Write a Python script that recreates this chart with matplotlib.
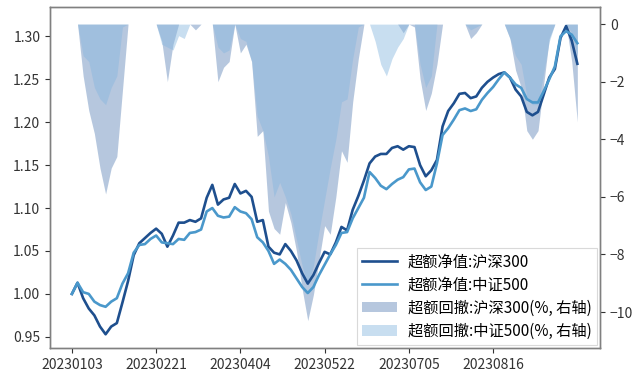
import numpy as np
import matplotlib
matplotlib.use("Agg")
import matplotlib.pyplot as plt

plt.rcParams['font.family'] = ['Noto Sans CJK SC', 'DejaVu Sans']
plt.rcParams['axes.unicode_minus'] = False

# tick labels (every 30 trading days)
tick_dates = ["20230103", "20230221", "20230404", "20230522", "20230705", "20230816"]

# excess net value, sampled every 2 trading days
nav_hs300 = [
    1.000, 1.013, 0.995, 0.983, 0.975, 0.962, 0.953, 0.962, 0.966, 0.990,
    1.015, 1.045, 1.059, 1.065, 1.071, 1.076, 1.070, 1.055, 1.068, 1.083,
    1.083, 1.086, 1.084, 1.088, 1.112, 1.127, 1.104, 1.110, 1.112, 1.128,
    1.117, 1.120, 1.113, 1.084, 1.086, 1.055, 1.048, 1.046, 1.058, 1.050,
    1.039, 1.024, 1.012, 1.022, 1.036, 1.049, 1.046, 1.060, 1.078, 1.074,
    1.098, 1.114, 1.132, 1.152, 1.160, 1.163, 1.163, 1.170, 1.172, 1.168,
    1.172, 1.171, 1.150, 1.137, 1.144, 1.156, 1.195, 1.213, 1.222, 1.233,
    1.234, 1.228, 1.230, 1.240, 1.247, 1.252, 1.256, 1.258, 1.252, 1.238,
    1.230, 1.212, 1.208, 1.212, 1.232, 1.252, 1.262, 1.298, 1.312, 1.295,
    1.268,
]
nav_zz500 = [
    1.000, 1.013, 1.002, 1.000, 0.991, 0.987, 0.985, 0.991, 0.995, 1.012,
    1.024, 1.048, 1.057, 1.058, 1.064, 1.068, 1.060, 1.059, 1.058, 1.064,
    1.063, 1.071, 1.072, 1.075, 1.096, 1.100, 1.091, 1.089, 1.090, 1.101,
    1.096, 1.094, 1.087, 1.066, 1.060, 1.050, 1.035, 1.040, 1.035, 1.028,
    1.018, 1.008, 1.001, 1.008, 1.022, 1.034, 1.046, 1.057, 1.071, 1.072,
    1.088, 1.100, 1.112, 1.142, 1.135, 1.126, 1.122, 1.128, 1.133, 1.136,
    1.145, 1.146, 1.130, 1.121, 1.125, 1.152, 1.185, 1.193, 1.203, 1.214,
    1.216, 1.213, 1.215, 1.226, 1.234, 1.241, 1.250, 1.258, 1.252, 1.244,
    1.240, 1.227, 1.223, 1.223, 1.236, 1.250, 1.265, 1.300, 1.306, 1.302,
    1.292,
]
# excess drawdown (%), right axis
dd_hs300 = [
    0.0, 0.0, -1.8, -3.0, -3.8, -5.0, -5.9, -5.0, -4.6, -2.3,
    0.0, 0.0, 0.0, 0.0, 0.0, 0.0, -0.6, -2.0, -0.7, 0.0,
    0.0, 0.0, -0.2, 0.0, 0.0, 0.0, -2.0, -1.5, -1.3, 0.0,
    -1.0, -0.7, -1.3, -3.9, -3.7, -6.5, -7.1, -7.3, -6.2, -6.9,
    -7.9, -9.2, -10.3, -9.4, -8.2, -7.0, -7.3, -6.0, -4.4, -4.8,
    -2.7, -1.2, 0.0, 0.0, 0.0, 0.0, 0.0, 0.0, 0.0, -0.3,
    0.0, -0.1, -1.9, -3.0, -2.4, -1.4, 0.0, 0.0, 0.0, 0.0,
    0.0, -0.5, -0.3, 0.0, 0.0, 0.0, 0.0, 0.0, -0.5, -1.6,
    -2.2, -3.7, -4.0, -3.7, -2.1, -0.5, 0.0, 0.0, 0.0, -1.3,
    -3.4,
]
dd_zz500 = [
    0.0, 0.0, -1.1, -1.3, -2.2, -2.6, -2.8, -2.2, -1.8, -0.1,
    0.0, 0.0, 0.0, 0.0, 0.0, 0.0, -0.7, -0.8, -0.9, -0.4,
    -0.5, 0.0, 0.0, 0.0, 0.0, 0.0, -0.8, -1.0, -0.9, 0.0,
    -0.5, -0.6, -1.3, -3.2, -3.7, -4.6, -6.0, -5.5, -6.0, -6.6,
    -7.5, -8.4, -9.1, -8.4, -7.2, -6.1, -5.0, -4.0, -2.7, -2.6,
    -1.2, -0.1, 0.0, 0.0, -0.6, -1.4, -1.8, -1.2, -0.8, -0.5,
    0.0, 0.0, -1.4, -2.2, -1.8, 0.0, 0.0, 0.0, 0.0, 0.0,
    0.0, -0.2, -0.1, 0.0, 0.0, 0.0, 0.0, 0.0, -0.5, -1.1,
    -1.4, -2.5, -2.8, -2.8, -1.7, -0.6, 0.0, 0.0, 0.0, -0.3,
    -1.1,
]

labels = ["超额净值:沪深300", "超额净值:中证500",
          "超额回撤:沪深300(%, 右轴)", "超额回撤:中证500(%, 右轴)"]

x = np.arange(len(nav_hs300)) * 2
tick_pos = np.arange(len(tick_dates)) * 30

fig = plt.figure(figsize=(6.33, 3.75), dpi=100)
ax = fig.add_axes([0.079, 0.072, 0.869, 0.909])
ax2 = ax.twinx()

c_dark = '#1e4f8e'
c_light = '#4a98cb'

f1 = ax2.fill_between(x, dd_hs300, 0, color='#8aa6cb', alpha=0.62, linewidth=0)
f2 = ax2.fill_between(x, dd_zz500, 0, color='#86b6de', alpha=0.45, linewidth=0)

l1, = ax.plot(x, nav_hs300, color=c_dark, lw=1.9)
l2, = ax.plot(x, nav_zz500, color=c_light, lw=1.9)

ax.set_zorder(ax2.get_zorder() + 1)
ax.patch.set_visible(False)

ax.set_xlim(-7.8, 188.1)
ax.set_ylim(0.937, 1.334)
ax2.set_ylim(-11.25, 0.59)
ax.set_yticks([0.95, 1.00, 1.05, 1.10, 1.15, 1.20, 1.25, 1.30])
ax.set_yticklabels(["0.95", "1.00", "1.05", "1.10", "1.15", "1.20", "1.25", "1.30"])
ax2.set_yticks([0, -2, -4, -6, -8, -10])
ax2.set_yticklabels(["0", "−2", "−4", "−6", "−8", "−10"])
ax.set_xticks(tick_pos)
ax.set_xticklabels(tick_dates)

for a in (ax, ax2):
    a.tick_params(labelsize=10, colors='#333333', length=3.5, width=0.8)
    for s in a.spines.values():
        s.set_color('#808080')
        s.set_linewidth(1.0)

leg = ax.legend([l1, l2, f1, f2], labels, loc='lower right', fontsize=11,
                frameon=True, fancybox=False, edgecolor='#d0d0d0',
                borderaxespad=0.2, handlelength=2.3, handletextpad=0.7,
                labelspacing=0.4, borderpad=0.35)
leg.get_frame().set_linewidth(0.8)

fig.savefig("out.png", dpi=100)
